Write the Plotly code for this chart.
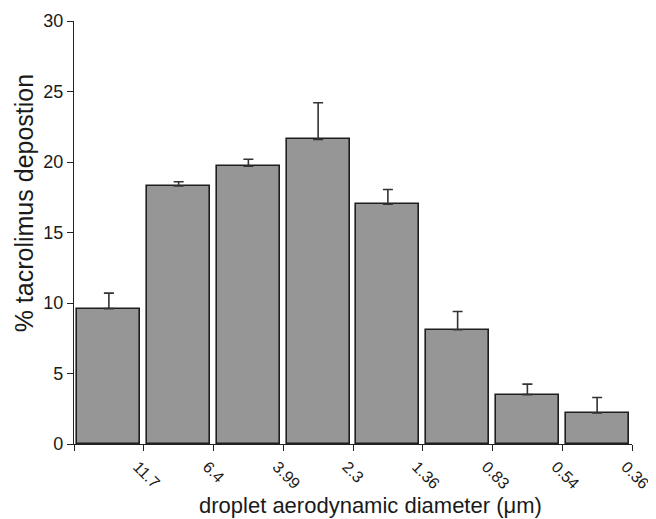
import plotly.graph_objects as go

bin_labels = ["11.7", "6.4", "3.99", "2.3", "1.36", "0.83", "0.54", "0.36"]
deposition = [9.6, 18.3, 19.7, 21.6, 17.0, 8.1, 3.5, 2.2]
error_up = [1.1, 0.3, 0.5, 2.6, 1.05, 1.3, 0.75, 1.1]
y_ticks = [0, 5, 10, 15, 20, 25, 30]

x_pos = [i + 0.5 for i in range(len(deposition))]

fig = go.Figure()
fig.add_trace(go.Bar(
    x=x_pos, y=deposition, width=0.9,
    marker=dict(color="#969696", line=dict(color="#1e1e1e", width=1.6)),
    error_y=dict(type="data", symmetric=False, array=error_up,
                 arrayminus=[0] * len(error_up),
                 color="#333333", thickness=1.6, width=5),
    showlegend=False,
))

# page body has an 8px default margin, so the figure is sized to fit 656x519
fig.update_layout(
    width=648, height=511,
    margin=dict(l=66, r=24, t=13, b=75),
    plot_bgcolor="white", paper_bgcolor="white",
    font=dict(family="Liberation Sans, Arial, sans-serif", color="#1a1a1a"),
    bargap=0,
)
fig.update_xaxes(
    range=[0, 8], tickmode="array",
    tickvals=list(range(0, 9)), ticktext=[""] + bin_labels,
    tickangle=45, ticks="outside", ticklen=6, tickwidth=1.3, tickcolor="#222",
    showline=True, linecolor="#222", linewidth=1.3, showgrid=False, zeroline=False,
    tickfont=dict(size=16), automargin=False, ticklabeloverflow="allow",
    ticklabelshift=-6,
)
fig.update_yaxes(
    range=[0, 30], tickvals=y_ticks,
    ticks="outside", ticklen=6, tickwidth=1.3, tickcolor="#222",
    showline=True, linecolor="#222", linewidth=1.3, showgrid=False, zeroline=False,
    tickfont=dict(size=18), automargin=False,
)
fig.add_annotation(
    text="droplet aerodynamic diameter (\u03bcm)", xref="paper", yref="paper",
    x=0.5, y=0, xanchor="center", yanchor="middle", xshift=17, yshift=-61,
    showarrow=False, font=dict(size=22),
)
fig.add_annotation(
    text="% tacrolimus depostion", xref="paper", yref="paper",
    x=0, y=0.569, xanchor="center", yanchor="middle", xshift=-50,
    textangle=-90, showarrow=False, font=dict(size=25),
)

fig.write_html("out.html")
